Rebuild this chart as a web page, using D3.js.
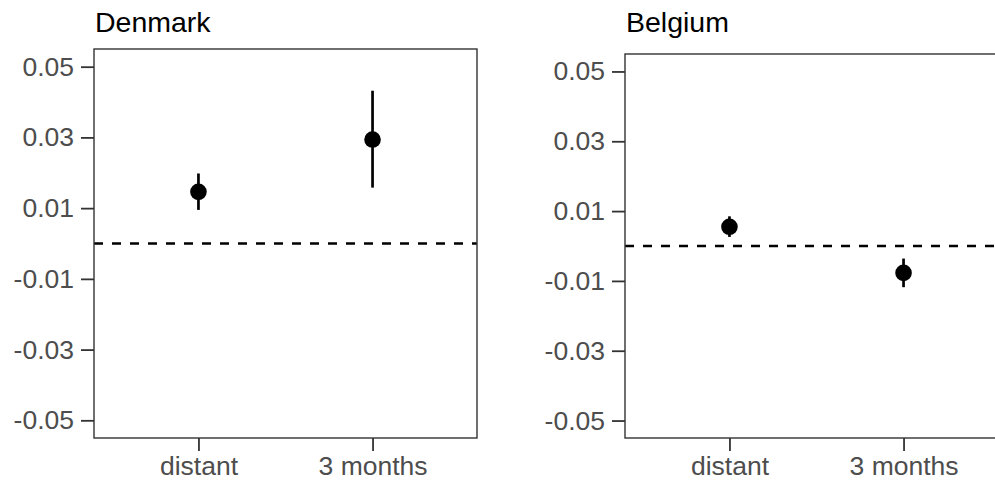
<!DOCTYPE html>
<html>
<head>
<meta charset="utf-8">
<script src="https://cdn.jsdelivr.net/npm/d3@7"></script>
<style>
  body { margin: 0; background: #fff; }
  svg { display: block; font-family: "Liberation Sans", Arial, sans-serif; }
</style>
</head>
<body>
<svg id="chart" width="995" height="481"></svg>
<script>
// values
const periods = ['distant', '3 months']
const yTicks = [-0.05, -0.03, -0.01, 0.01, 0.03, 0.05]

const denmarkEst = [0.0146, 0.0294]
const denmarkLow = [0.0095, 0.0158]
const denmarkHigh = [0.0198, 0.0432]

const belgiumEst = [0.0055, -0.0077]
const belgiumLow = [0.0026, -0.0118]
const belgiumHigh = [0.0085, -0.0036]

const panels = [
    { title: 'Denmark', est: denmarkEst, low: denmarkLow, high: denmarkHigh,
      left: 94, right: 477, top: 49, bottom: 438 },
    { title: 'Belgium', est: belgiumEst, low: belgiumLow, high: belgiumHigh,
      left: 625, right: 1008, top: 54, bottom: 438 }
]

const svg = d3.select('#chart')
const axisColor = '#333333'
const labelColor = '#4d4d4d'
const fontSize = 26.5

const drawPanel = (p) => {
    const g = svg.append('g')

    const y = d3.scaleLinear()
        .domain([-0.055, 0.055])
        .range([p.bottom, p.top])

    // ggplot-style discrete axis: 0.6 units of padding on each side
    const x = d3.scalePoint()
        .domain(periods)
        .range([p.left, p.right])
        .padding(0.6)

    // zero reference line
    g.append('line')
        .attr('x1', p.left)
        .attr('x2', p.right)
        .attr('y1', y(0))
        .attr('y2', y(0))
        .attr('stroke', '#000')
        .attr('stroke-width', 2.4)
        .attr('stroke-dasharray', '9,9')

    // error bars
    g.append('g')
        .selectAll('line')
        .data(periods)
        .join('line')
        .attr('x1', d => x(d))
        .attr('x2', d => x(d))
        .attr('y1', (d, i) => y(p.low[i]))
        .attr('y2', (d, i) => y(p.high[i]))
        .attr('stroke', '#000')
        .attr('stroke-width', 2.7)

    // point estimates
    g.append('g')
        .selectAll('circle')
        .data(periods)
        .join('circle')
        .attr('cx', d => x(d))
        .attr('cy', (d, i) => y(p.est[i]))
        .attr('r', 8.3)
        .attr('fill', '#000')

    // panel border
    g.append('rect')
        .attr('x', p.left)
        .attr('y', p.top)
        .attr('width', p.right - p.left)
        .attr('height', p.bottom - p.top)
        .attr('fill', 'none')
        .attr('stroke', axisColor)
        .attr('stroke-width', 1.4)

    const yAxis = g.append('g')
        .attr('transform', `translate(${p.left},0)`)
        .call(d3.axisLeft(y).tickValues(yTicks).tickSize(13).tickPadding(7)
            .tickFormat(d => d.toFixed(2)))
    yAxis.select('.domain').remove()

    const xAxis = g.append('g')
        .attr('transform', `translate(0,${p.bottom})`)
        .call(d3.axisBottom(x).tickSize(13).tickPadding(5))
    xAxis.select('.domain').remove()

    g.selectAll('.tick line')
        .attr('stroke', axisColor)
        .attr('stroke-width', 1.8)
    g.selectAll('.tick text')
        .attr('fill', labelColor)
        .style('font-size', fontSize + 'px')
        .style('font-family', '"Liberation Sans", Arial, sans-serif')

    g.append('text')
        .attr('x', p.left + 1)
        .attr('y', 32)
        .text(p.title)
        .style('font-size', '28.5px')
        .style('fill', '#000')
}

panels.forEach(drawPanel)
</script>
</body>
</html>
